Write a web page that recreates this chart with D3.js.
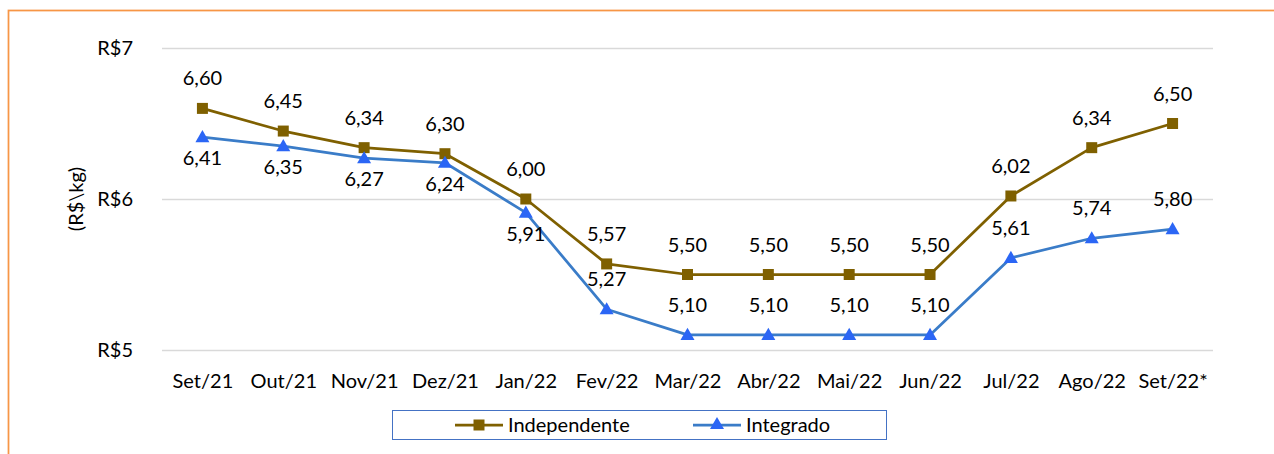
<!DOCTYPE html>
<html>
<head>
<meta charset="utf-8">
<script src="https://cdn.jsdelivr.net/npm/d3@7"></script>
<style>
  html, body { margin: 0; padding: 0; background: #fff; }
  svg { display: block; }
  text { font-family: Lato, "Noto Sans", sans-serif; fill: #000; }
</style>
</head>
<body>
<svg id="chart" width="1274" height="454"></svg>
<script>
// Monthly prices (R$/kg)
const months = ["Set/21","Out/21","Nov/21","Dez/21","Jan/22","Fev/22","Mar/22","Abr/22","Mai/22","Jun/22","Jul/22","Ago/22","Set/22*"];
const independente = [6.60, 6.45, 6.34, 6.30, 6.00, 5.57, 5.50, 5.50, 5.50, 5.50, 6.02, 6.34, 6.50];
const integrado    = [6.41, 6.35, 6.27, 6.24, 5.91, 5.27, 5.10, 5.10, 5.10, 5.10, 5.61, 5.74, 5.80];
const yTicks = [5, 6, 7];
const seriesNames = ["Independente", "Integrado"];

const svg = d3.select("#chart");
const W = 1274, H = 454;
const plot = { left: 162, right: 1213, top: 48, bottom: 350 };
const fontSize = 20;

// Outer frame
svg.append("rect")
  .attr("x", 8.5).attr("y", 10.5)
  .attr("width", W + 20).attr("height", H + 20)
  .attr("fill", "none").attr("stroke", "#F79646").attr("stroke-width", 1.75);

const x = d3.scalePoint().domain(months).range([plot.left, plot.right]).padding(0.5);
const y = d3.scaleLinear().domain([5, 7]).range([plot.bottom, plot.top]);

// Horizontal gridlines and y labels
const yAxis = d3.axisLeft(y).tickValues(yTicks)
  .tickSize(-(plot.right - plot.left)).tickPadding(29)
  .tickFormat(d => "R$" + d);
const gy = svg.append("g").attr("transform", `translate(${plot.left},0)`).call(yAxis);
gy.select(".domain").remove();
gy.selectAll(".tick line").attr("stroke", "#D9D9D9").attr("stroke-width", 1.5);
gy.selectAll(".tick text").style("font-size", fontSize + "px").attr("fill", "#000");

// Category labels
const xAxis = d3.axisBottom(x).tickSize(0).tickPadding(24);
const gx = svg.append("g").attr("transform", `translate(0,${plot.bottom})`).call(xAxis);
gx.select(".domain").remove();
gx.selectAll(".tick text").style("font-size", fontSize + "px").attr("fill", "#000");

// Y axis title
svg.append("text")
  .attr("transform", `translate(83,${(plot.top + plot.bottom) / 2}) rotate(-90)`)
  .attr("text-anchor", "middle")
  .style("font-size", fontSize + "px")
  .text("(R$\\kg)");

const fmt = v => v.toFixed(2).replace(".", ",");
const line = d3.line().x((d, i) => x(months[i])).y(d => y(d));

const colIndep = "#7F6000";
const colIntegLine = "#3A7CC8";
const colIntegMark = "#2B66F5";

// Independente series
svg.append("path").datum(independente)
  .attr("d", line).attr("fill", "none")
  .attr("stroke", colIndep).attr("stroke-width", 2.75).attr("stroke-linejoin", "round");

// Integrado series
svg.append("path").datum(integrado)
  .attr("d", line).attr("fill", "none")
  .attr("stroke", colIntegLine).attr("stroke-width", 2.75).attr("stroke-linejoin", "round");

const sq = d3.symbol().type(d3.symbolSquare).size(121);
const tri = d3.symbol().type(d3.symbolTriangle).size(85);

svg.append("g").selectAll("path").data(independente).join("path")
  .attr("d", sq)
  .attr("transform", (d, i) => `translate(${x(months[i])},${y(d)})`)
  .attr("fill", colIndep);

svg.append("g").selectAll("path").data(integrado).join("path")
  .attr("d", tri)
  .attr("transform", (d, i) => `translate(${x(months[i])},${y(d) + 1})`)
  .attr("fill", colIntegMark);

// Data labels
svg.append("g").selectAll("text").data(independente).join("text")
  .attr("x", (d, i) => x(months[i]))
  .attr("y", d => y(d) - 23)
  .attr("text-anchor", "middle")
  .style("font-size", fontSize + "px")
  .text(fmt);

svg.append("g").selectAll("text").data(integrado).join("text")
  .attr("x", (d, i) => x(months[i]))
  .attr("y", (d, i) => i < 5 ? y(d) + 28 : y(d) - 23)
  .attr("text-anchor", "middle")
  .style("font-size", fontSize + "px")
  .text(fmt);

// Legend
const lg = svg.append("g");
lg.append("rect")
  .attr("x", 392.5).attr("y", 410.5).attr("width", 494).attr("height", 29)
  .attr("fill", "#fff").attr("stroke", "#4472C4").attr("stroke-width", 1);

const legendItems = [
  { name: seriesNames[0], x0: 455, color: colIndep, mark: colIndep, sym: sq, dy: 0 },
  { name: seriesNames[1], x0: 693, color: colIntegLine, mark: colIntegMark, sym: tri, dy: 0 }
];
const ly = 425;
legendItems.forEach(it => {
  lg.append("line").attr("x1", it.x0).attr("x2", it.x0 + 48)
    .attr("y1", ly).attr("y2", ly)
    .attr("stroke", it.color).attr("stroke-width", 2.75);
  lg.append("path").attr("d", it.sym)
    .attr("transform", `translate(${it.x0 + 24},${ly + it.dy})`)
    .attr("fill", it.mark);
  lg.append("text").attr("x", it.x0 + 53).attr("y", ly + 7)
    .style("font-size", fontSize + "px")
    .text(it.name);
});
</script>
</body>
</html>
